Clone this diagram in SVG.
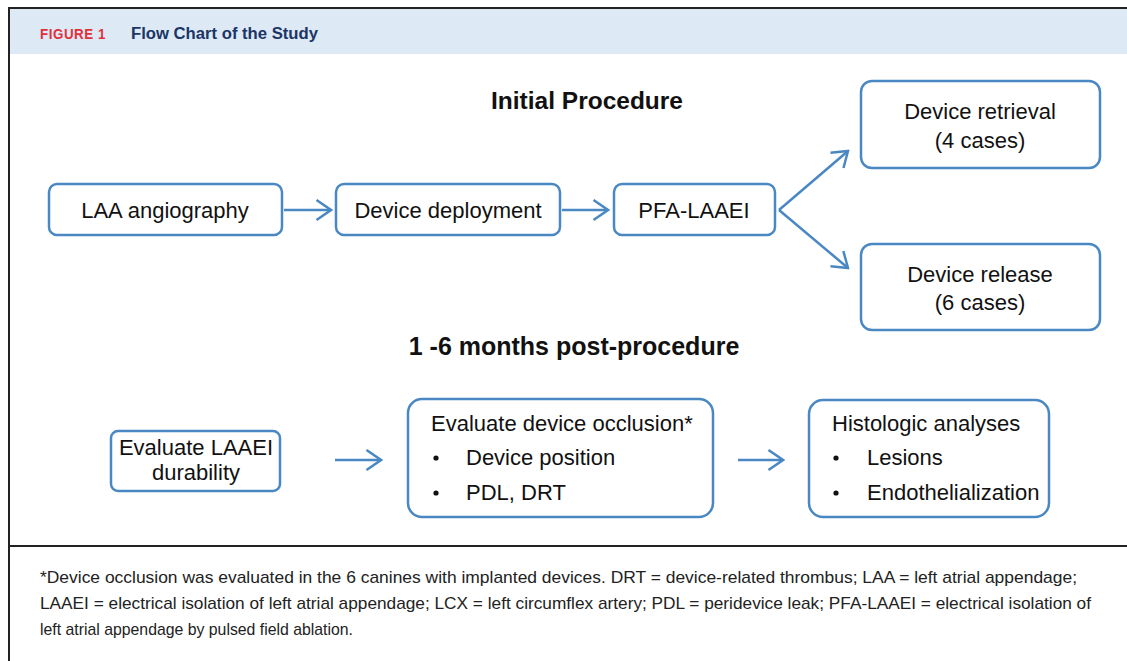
<svg xmlns="http://www.w3.org/2000/svg" width="1127" height="661" viewBox="0 0 1127 661">
  <style>
    .box { fill: #ffffff; stroke: #4a88c4; stroke-width: 2.5; }
    .edge { fill: none; stroke: #4a88c4; stroke-width: 2.5; }
    .lbl { font-family: "Liberation Sans", Arial, sans-serif; font-size: 22px; fill: #111111; }
    .mid { text-anchor: middle; }
    .head { font-family: "Liberation Sans", Arial, sans-serif; font-weight: bold; fill: #111111; text-anchor: middle; }
    .note { font-family: "Liberation Sans", Arial, sans-serif; font-size: 17px; fill: #222222; }
  </style>
  <defs>
    <marker id="chev" viewBox="0 0 18 24" refX="16.5" refY="12" markerWidth="18" markerHeight="24" markerUnits="userSpaceOnUse" orient="auto">
      <path d="M2 2 L16.5 12 L2 22" fill="none" stroke="#4a88c4" stroke-width="2.5"/>
    </marker>
  </defs>

  <rect x="0" y="0" width="1127" height="661" fill="#ffffff"/>

  <!-- caption header -->
  <g id="header">
    <rect x="10" y="9" width="1117" height="45" fill="#dde9f5"/>
    <line x1="9" y1="8" x2="1127" y2="8" stroke="#222222" stroke-width="2"/>
    <text x="40" y="39" font-family="Liberation Sans, Arial, sans-serif" font-size="14.5" font-weight="bold" letter-spacing="0.6" fill="#e0313b" textLength="66" lengthAdjust="spacingAndGlyphs">FIGURE 1</text>
    <text x="131" y="39" font-family="Liberation Sans, Arial, sans-serif" font-size="16.8" font-weight="bold" fill="#1b3566" textLength="187" lengthAdjust="spacingAndGlyphs">Flow Chart of the Study</text>
  </g>

  <!-- frame -->
  <line x1="9" y1="7" x2="9" y2="661" stroke="#222222" stroke-width="2"/>
  <line x1="9" y1="546" x2="1127" y2="546" stroke="#222222" stroke-width="2"/>

  <!-- section headings -->
  <text class="head" x="587" y="109" font-size="24.5">Initial Procedure</text>
  <text class="head" x="574" y="355" font-size="25">1 -6 months post-procedure</text>

  <!-- connectors -->
  <g id="connectors">
    <line class="edge" x1="284" y1="210" x2="331" y2="210" marker-end="url(#chev)"/>
    <line class="edge" x1="562" y1="210" x2="608" y2="210" marker-end="url(#chev)"/>
    <line class="edge" x1="779" y1="210" x2="848" y2="151" marker-end="url(#chev)"/>
    <line class="edge" x1="779" y1="210" x2="848" y2="268" marker-end="url(#chev)"/>
    <line class="edge" x1="335" y1="460" x2="381" y2="460" marker-end="url(#chev)"/>
    <line class="edge" x1="738" y1="460" x2="783" y2="460" marker-end="url(#chev)"/>
  </g>

  <!-- nodes -->
  <g id="laa-angiography">
    <rect class="box" x="49" y="184" width="233" height="51" rx="8"/>
    <text class="lbl mid" x="165" y="218">LAA angiography</text>
  </g>
  <g id="device-deployment">
    <rect class="box" x="336" y="184" width="224" height="51" rx="8"/>
    <text class="lbl mid" x="448" y="218">Device deployment</text>
  </g>
  <g id="pfa-laaei">
    <rect class="box" x="614" y="184" width="161" height="51" rx="8"/>
    <text class="lbl mid" x="694" y="218">PFA-LAAEI</text>
  </g>
  <g id="device-retrieval">
    <rect class="box" x="861" y="81" width="239" height="87" rx="11"/>
    <text class="lbl mid" x="980" y="119">Device retrieval</text>
    <text class="lbl mid" x="980" y="148">(4 cases)</text>
  </g>
  <g id="device-release">
    <rect class="box" x="861" y="244" width="239" height="86" rx="11"/>
    <text class="lbl mid" x="980" y="282">Device release</text>
    <text class="lbl mid" x="980" y="310">(6 cases)</text>
  </g>
  <g id="laaei-durability">
    <rect class="box" x="111" y="431" width="169" height="60" rx="7"/>
    <text class="lbl mid" x="196" y="455">Evaluate LAAEI</text>
    <text class="lbl mid" x="196" y="480">durability</text>
  </g>
  <g id="device-occlusion">
    <rect class="box" x="408" y="399" width="305" height="118" rx="14"/>
    <text class="lbl" x="431" y="431">Evaluate device occlusion*</text>
    <circle cx="436" cy="458" r="2.6" fill="#111111"/>
    <text class="lbl" x="466" y="465">Device position</text>
    <circle cx="436" cy="493" r="2.6" fill="#111111"/>
    <text class="lbl" x="466" y="500">PDL, DRT</text>
  </g>
  <g id="histologic-analyses">
    <rect class="box" x="809" y="400" width="240" height="117" rx="14"/>
    <text class="lbl" x="832" y="431">Histologic analyses</text>
    <circle cx="836" cy="458" r="2.6" fill="#111111"/>
    <text class="lbl" x="867" y="465">Lesions</text>
    <circle cx="836" cy="493" r="2.6" fill="#111111"/>
    <text class="lbl" x="867" y="500">Endothelialization</text>
  </g>

  <!-- footnote -->
  <g id="footnote">
    <text class="note" x="40" y="583" textLength="1037" lengthAdjust="spacingAndGlyphs">*Device occlusion was evaluated in the 6 canines with implanted devices. DRT = device-related thrombus; LAA = left atrial appendage;</text>
    <text class="note" x="40" y="609" textLength="1051" lengthAdjust="spacingAndGlyphs">LAAEI = electrical isolation of left atrial appendage; LCX = left circumflex artery; PDL = peridevice leak; PFA-LAAEI = electrical isolation of</text>
    <text class="note" x="40" y="635" textLength="313" lengthAdjust="spacingAndGlyphs">left atrial appendage by pulsed field ablation.</text>
  </g>
</svg>
